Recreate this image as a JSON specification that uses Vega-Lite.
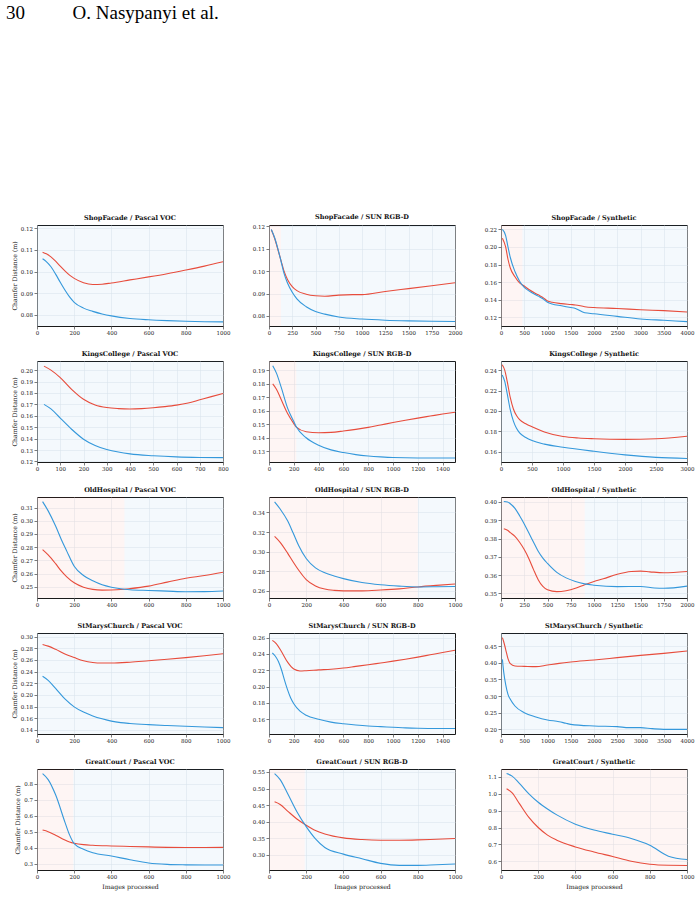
{
  "$schema": "https://vega.github.io/schema/vega-lite/v6.json",
  "autosize": {"type": "pad"},
  "padding": {"left": 6, "top": 4, "right": 5, "bottom": 5},
  "background": "white",
  "title": {
    "text": "30\u00a0\u00a0\u00a0\u00a0\u00a0\u00a0\u00a0\u00a0\u00a0\u00a0O. Nasypanyi et al.",
    "font": "Liberation Serif", "fontSize": 19, "fontWeight": "normal", "color": "#000",
    "anchor": "start", "frame": "group", "offset": 190, "dx": -31
  },
  "bounds": "flush",
  "columns": 3,
  "spacing": {"row": 35, "column": 46},
  "datasets": {
    "regions": [
      {"panel": "ShopFacade / Pascal VOC", "n": 0, "n_end": 1000, "lower": "B"},
      {"panel": "ShopFacade / SUN RGB-D", "n": 0, "n_end": 128, "lower": "A"},
      {"panel": "ShopFacade / SUN RGB-D", "n": 128, "n_end": 2000, "lower": "B"},
      {"panel": "ShopFacade / Synthetic", "n": 0, "n_end": 460, "lower": "A"},
      {"panel": "ShopFacade / Synthetic", "n": 460, "n_end": 4000, "lower": "B"},
      {"panel": "KingsCollege / Pascal VOC", "n": 0, "n_end": 800, "lower": "B"},
      {"panel": "KingsCollege / SUN RGB-D", "n": 0, "n_end": 220, "lower": "A"},
      {"panel": "KingsCollege / SUN RGB-D", "n": 220, "n_end": 1500, "lower": "B"},
      {"panel": "KingsCollege / Synthetic", "n": 0, "n_end": 3000, "lower": "B"},
      {"panel": "OldHospital / Pascal VOC", "n": 0, "n_end": 470, "lower": "A"},
      {"panel": "OldHospital / Pascal VOC", "n": 470, "n_end": 1000, "lower": "B"},
      {"panel": "OldHospital / SUN RGB-D", "n": 0, "n_end": 800, "lower": "A"},
      {"panel": "OldHospital / SUN RGB-D", "n": 800, "n_end": 1000, "lower": "B"},
      {"panel": "OldHospital / Synthetic", "n": 0, "n_end": 900, "lower": "A"},
      {"panel": "OldHospital / Synthetic", "n": 900, "n_end": 2000, "lower": "B"},
      {"panel": "StMarysChurch / Pascal VOC", "n": 0, "n_end": 1000, "lower": "B"},
      {"panel": "StMarysChurch / SUN RGB-D", "n": 0, "n_end": 1500, "lower": "B"},
      {"panel": "StMarysChurch / Synthetic", "n": 0, "n_end": 4000, "lower": "B"},
      {"panel": "GreatCourt / Pascal VOC", "n": 0, "n_end": 195, "lower": "A"},
      {"panel": "GreatCourt / Pascal VOC", "n": 195, "n_end": 1000, "lower": "B"},
      {"panel": "GreatCourt / SUN RGB-D", "n": 0, "n_end": 192, "lower": "A"},
      {"panel": "GreatCourt / SUN RGB-D", "n": 192, "n_end": 1000, "lower": "B"},
      {"panel": "GreatCourt / Synthetic", "n": 0, "n_end": 1000, "lower": "A"}
    ],
    "shop_voc": [
      {"m": "A", "n": 30, "cd": 0.1090}, {"m": "A", "n": 50, "cd": 0.1082}, {"m": "A", "n": 75, "cd": 0.1068}, {"m": "A", "n": 100, "cd": 0.1048},
      {"m": "A", "n": 125, "cd": 0.1025}, {"m": "A", "n": 150, "cd": 0.1003}, {"m": "A", "n": 175, "cd": 0.0983}, {"m": "A", "n": 200, "cd": 0.0968},
      {"m": "A", "n": 250, "cd": 0.0948}, {"m": "A", "n": 300, "cd": 0.0940}, {"m": "A", "n": 350, "cd": 0.0941}, {"m": "A", "n": 400, "cd": 0.0947},
      {"m": "A", "n": 500, "cd": 0.0961}, {"m": "A", "n": 600, "cd": 0.0975}, {"m": "A", "n": 700, "cd": 0.0990}, {"m": "A", "n": 800, "cd": 0.1007},
      {"m": "A", "n": 900, "cd": 0.1025}, {"m": "A", "n": 1000, "cd": 0.1045},
      {"m": "B", "n": 30, "cd": 0.1059}, {"m": "B", "n": 50, "cd": 0.1046}, {"m": "B", "n": 75, "cd": 0.1022}, {"m": "B", "n": 100, "cd": 0.0988},
      {"m": "B", "n": 125, "cd": 0.0950}, {"m": "B", "n": 150, "cd": 0.0914}, {"m": "B", "n": 175, "cd": 0.0882}, {"m": "B", "n": 200, "cd": 0.0857},
      {"m": "B", "n": 250, "cd": 0.0830}, {"m": "B", "n": 300, "cd": 0.0815}, {"m": "B", "n": 350, "cd": 0.0803}, {"m": "B", "n": 400, "cd": 0.0794},
      {"m": "B", "n": 500, "cd": 0.0782}, {"m": "B", "n": 600, "cd": 0.0776}, {"m": "B", "n": 700, "cd": 0.0772}, {"m": "B", "n": 800, "cd": 0.0769},
      {"m": "B", "n": 900, "cd": 0.0767}, {"m": "B", "n": 1000, "cd": 0.0766}
    ],
    "shop_sun": [
      {"m": "A", "n": 25, "cd": 0.1185}, {"m": "A", "n": 60, "cd": 0.1147}, {"m": "A", "n": 100, "cd": 0.1090}, {"m": "A", "n": 130, "cd": 0.1046},
      {"m": "A", "n": 160, "cd": 0.1002}, {"m": "A", "n": 200, "cd": 0.0962}, {"m": "A", "n": 250, "cd": 0.0931}, {"m": "A", "n": 300, "cd": 0.0913},
      {"m": "A", "n": 400, "cd": 0.0897}, {"m": "A", "n": 500, "cd": 0.0890}, {"m": "A", "n": 600, "cd": 0.0888}, {"m": "A", "n": 750, "cd": 0.0893},
      {"m": "A", "n": 900, "cd": 0.0895}, {"m": "A", "n": 1000, "cd": 0.0895}, {"m": "A", "n": 1250, "cd": 0.0909}, {"m": "A", "n": 1500, "cd": 0.0922},
      {"m": "A", "n": 1750, "cd": 0.0935}, {"m": "A", "n": 2000, "cd": 0.0948},
      {"m": "B", "n": 25, "cd": 0.1186}, {"m": "B", "n": 60, "cd": 0.1150}, {"m": "B", "n": 100, "cd": 0.1093}, {"m": "B", "n": 130, "cd": 0.1043},
      {"m": "B", "n": 160, "cd": 0.0992}, {"m": "B", "n": 200, "cd": 0.0946}, {"m": "B", "n": 250, "cd": 0.0906}, {"m": "B", "n": 300, "cd": 0.0876},
      {"m": "B", "n": 400, "cd": 0.0841}, {"m": "B", "n": 500, "cd": 0.0820}, {"m": "B", "n": 600, "cd": 0.0808}, {"m": "B", "n": 750, "cd": 0.0795},
      {"m": "B", "n": 1000, "cd": 0.0786}, {"m": "B", "n": 1250, "cd": 0.0781}, {"m": "B", "n": 1500, "cd": 0.0778}, {"m": "B", "n": 1750, "cd": 0.0776},
      {"m": "B", "n": 2000, "cd": 0.0775}
    ],
    "shop_syn": [
      {"m": "A", "n": 30, "cd": 0.210}, {"m": "A", "n": 100, "cd": 0.200}, {"m": "A", "n": 150, "cd": 0.186}, {"m": "A", "n": 200, "cd": 0.176},
      {"m": "A", "n": 300, "cd": 0.166}, {"m": "A", "n": 400, "cd": 0.159}, {"m": "A", "n": 500, "cd": 0.1555}, {"m": "A", "n": 600, "cd": 0.1515},
      {"m": "A", "n": 800, "cd": 0.1455}, {"m": "A", "n": 900, "cd": 0.1425}, {"m": "A", "n": 1000, "cd": 0.1385}, {"m": "A", "n": 1100, "cd": 0.1370},
      {"m": "A", "n": 1300, "cd": 0.1355}, {"m": "A", "n": 1500, "cd": 0.1345}, {"m": "A", "n": 1600, "cd": 0.1340}, {"m": "A", "n": 1800, "cd": 0.1320},
      {"m": "A", "n": 2000, "cd": 0.1310}, {"m": "A", "n": 2500, "cd": 0.1300}, {"m": "A", "n": 3000, "cd": 0.1285}, {"m": "A", "n": 3500, "cd": 0.1275},
      {"m": "A", "n": 4000, "cd": 0.1260},
      {"m": "B", "n": 30, "cd": 0.220}, {"m": "B", "n": 100, "cd": 0.213}, {"m": "B", "n": 150, "cd": 0.200}, {"m": "B", "n": 200, "cd": 0.188},
      {"m": "B", "n": 300, "cd": 0.172}, {"m": "B", "n": 400, "cd": 0.161}, {"m": "B", "n": 500, "cd": 0.1540}, {"m": "B", "n": 600, "cd": 0.1500},
      {"m": "B", "n": 800, "cd": 0.1440}, {"m": "B", "n": 900, "cd": 0.1410}, {"m": "B", "n": 1000, "cd": 0.1370}, {"m": "B", "n": 1100, "cd": 0.1350},
      {"m": "B", "n": 1300, "cd": 0.1330}, {"m": "B", "n": 1500, "cd": 0.1310}, {"m": "B", "n": 1600, "cd": 0.1300}, {"m": "B", "n": 1800, "cd": 0.1250},
      {"m": "B", "n": 2000, "cd": 0.1240}, {"m": "B", "n": 2500, "cd": 0.1210}, {"m": "B", "n": 3000, "cd": 0.1180}, {"m": "B", "n": 3500, "cd": 0.1165},
      {"m": "B", "n": 4000, "cd": 0.1150}
    ],
    "kings_voc": [
      {"m": "A", "n": 30, "cd": 0.2035}, {"m": "A", "n": 60, "cd": 0.2000}, {"m": "A", "n": 100, "cd": 0.1935}, {"m": "A", "n": 150, "cd": 0.1830},
      {"m": "A", "n": 200, "cd": 0.1745}, {"m": "A", "n": 250, "cd": 0.1695}, {"m": "A", "n": 300, "cd": 0.1672}, {"m": "A", "n": 350, "cd": 0.1663},
      {"m": "A", "n": 400, "cd": 0.1660}, {"m": "A", "n": 450, "cd": 0.1663}, {"m": "A", "n": 500, "cd": 0.1670}, {"m": "A", "n": 550, "cd": 0.1680},
      {"m": "A", "n": 600, "cd": 0.1693}, {"m": "A", "n": 650, "cd": 0.1712}, {"m": "A", "n": 700, "cd": 0.1740}, {"m": "A", "n": 750, "cd": 0.1768},
      {"m": "A", "n": 800, "cd": 0.1795},
      {"m": "B", "n": 30, "cd": 0.1700}, {"m": "B", "n": 60, "cd": 0.1660}, {"m": "B", "n": 100, "cd": 0.1580}, {"m": "B", "n": 150, "cd": 0.1480},
      {"m": "B", "n": 200, "cd": 0.1395}, {"m": "B", "n": 250, "cd": 0.1340}, {"m": "B", "n": 300, "cd": 0.1305}, {"m": "B", "n": 350, "cd": 0.1282},
      {"m": "B", "n": 400, "cd": 0.1266}, {"m": "B", "n": 500, "cd": 0.1250}, {"m": "B", "n": 600, "cd": 0.1240}, {"m": "B", "n": 700, "cd": 0.1235},
      {"m": "B", "n": 800, "cd": 0.1233}
    ],
    "kings_sun": [
      {"m": "A", "n": 30, "cd": 0.1800}, {"m": "A", "n": 60, "cd": 0.1760}, {"m": "A", "n": 100, "cd": 0.1680}, {"m": "A", "n": 150, "cd": 0.1580},
      {"m": "A", "n": 200, "cd": 0.1505}, {"m": "A", "n": 220, "cd": 0.1479}, {"m": "A", "n": 300, "cd": 0.1445}, {"m": "A", "n": 400, "cd": 0.1437},
      {"m": "A", "n": 500, "cd": 0.1440}, {"m": "A", "n": 600, "cd": 0.1450}, {"m": "A", "n": 700, "cd": 0.1462}, {"m": "A", "n": 800, "cd": 0.1477},
      {"m": "A", "n": 900, "cd": 0.1495}, {"m": "A", "n": 1000, "cd": 0.1513}, {"m": "A", "n": 1100, "cd": 0.1530}, {"m": "A", "n": 1200, "cd": 0.1546},
      {"m": "A", "n": 1300, "cd": 0.1561}, {"m": "A", "n": 1400, "cd": 0.1576}, {"m": "A", "n": 1500, "cd": 0.1590},
      {"m": "B", "n": 30, "cd": 0.1935}, {"m": "B", "n": 60, "cd": 0.1880}, {"m": "B", "n": 100, "cd": 0.1770}, {"m": "B", "n": 150, "cd": 0.1620},
      {"m": "B", "n": 200, "cd": 0.1520}, {"m": "B", "n": 220, "cd": 0.1481}, {"m": "B", "n": 300, "cd": 0.1400}, {"m": "B", "n": 400, "cd": 0.1345},
      {"m": "B", "n": 500, "cd": 0.1310}, {"m": "B", "n": 600, "cd": 0.1290}, {"m": "B", "n": 700, "cd": 0.1275}, {"m": "B", "n": 800, "cd": 0.1265},
      {"m": "B", "n": 900, "cd": 0.1258}, {"m": "B", "n": 1000, "cd": 0.1253}, {"m": "B", "n": 1200, "cd": 0.1250}, {"m": "B", "n": 1500, "cd": 0.1250}
    ],
    "kings_syn": [
      {"m": "A", "n": 20, "cd": 0.2453}, {"m": "A", "n": 60, "cd": 0.2400}, {"m": "A", "n": 100, "cd": 0.2290}, {"m": "A", "n": 150, "cd": 0.2130},
      {"m": "A", "n": 200, "cd": 0.2020}, {"m": "A", "n": 250, "cd": 0.1955}, {"m": "A", "n": 300, "cd": 0.1915}, {"m": "A", "n": 400, "cd": 0.1875},
      {"m": "A", "n": 500, "cd": 0.1845}, {"m": "A", "n": 700, "cd": 0.1795}, {"m": "A", "n": 1000, "cd": 0.1750}, {"m": "A", "n": 1250, "cd": 0.1735},
      {"m": "A", "n": 1500, "cd": 0.1728}, {"m": "A", "n": 2000, "cd": 0.1722}, {"m": "A", "n": 2500, "cd": 0.1728}, {"m": "A", "n": 3000, "cd": 0.1753},
      {"m": "B", "n": 20, "cd": 0.2353}, {"m": "B", "n": 60, "cd": 0.2290}, {"m": "B", "n": 100, "cd": 0.2170}, {"m": "B", "n": 150, "cd": 0.2010},
      {"m": "B", "n": 200, "cd": 0.1900}, {"m": "B", "n": 250, "cd": 0.1830}, {"m": "B", "n": 300, "cd": 0.1785}, {"m": "B", "n": 400, "cd": 0.1740},
      {"m": "B", "n": 500, "cd": 0.1710}, {"m": "B", "n": 700, "cd": 0.1675}, {"m": "B", "n": 1000, "cd": 0.1645}, {"m": "B", "n": 1500, "cd": 0.1605},
      {"m": "B", "n": 2000, "cd": 0.1570}, {"m": "B", "n": 2500, "cd": 0.1545}, {"m": "B", "n": 3000, "cd": 0.1535}
    ],
    "old_voc": [
      {"m": "A", "n": 30, "cd": 0.2782}, {"m": "A", "n": 60, "cd": 0.2742}, {"m": "A", "n": 100, "cd": 0.2675}, {"m": "A", "n": 130, "cd": 0.2620},
      {"m": "A", "n": 160, "cd": 0.2575}, {"m": "A", "n": 200, "cd": 0.2530}, {"m": "A", "n": 250, "cd": 0.2497}, {"m": "A", "n": 300, "cd": 0.2480},
      {"m": "A", "n": 350, "cd": 0.2475}, {"m": "A", "n": 400, "cd": 0.2476}, {"m": "A", "n": 450, "cd": 0.2479}, {"m": "A", "n": 500, "cd": 0.2486},
      {"m": "A", "n": 600, "cd": 0.2505}, {"m": "A", "n": 700, "cd": 0.2535}, {"m": "A", "n": 800, "cd": 0.2565}, {"m": "A", "n": 900, "cd": 0.2585},
      {"m": "A", "n": 1000, "cd": 0.2610},
      {"m": "B", "n": 30, "cd": 0.3145}, {"m": "B", "n": 60, "cd": 0.3075}, {"m": "B", "n": 100, "cd": 0.2960}, {"m": "B", "n": 130, "cd": 0.2860},
      {"m": "B", "n": 160, "cd": 0.2770}, {"m": "B", "n": 200, "cd": 0.2655}, {"m": "B", "n": 250, "cd": 0.2585}, {"m": "B", "n": 300, "cd": 0.2545},
      {"m": "B", "n": 350, "cd": 0.2515}, {"m": "B", "n": 400, "cd": 0.2497}, {"m": "B", "n": 450, "cd": 0.2485}, {"m": "B", "n": 500, "cd": 0.2478},
      {"m": "B", "n": 600, "cd": 0.2472}, {"m": "B", "n": 700, "cd": 0.2467}, {"m": "B", "n": 800, "cd": 0.2462}, {"m": "B", "n": 900, "cd": 0.2463},
      {"m": "B", "n": 1000, "cd": 0.2468}
    ],
    "old_sun": [
      {"m": "A", "n": 30, "cd": 0.3155}, {"m": "A", "n": 60, "cd": 0.3095}, {"m": "A", "n": 100, "cd": 0.2985}, {"m": "A", "n": 130, "cd": 0.2895},
      {"m": "A", "n": 160, "cd": 0.2810}, {"m": "A", "n": 200, "cd": 0.2715}, {"m": "A", "n": 250, "cd": 0.2650}, {"m": "A", "n": 300, "cd": 0.2618},
      {"m": "A", "n": 350, "cd": 0.2605}, {"m": "A", "n": 400, "cd": 0.2600}, {"m": "A", "n": 500, "cd": 0.2600}, {"m": "A", "n": 600, "cd": 0.2608},
      {"m": "A", "n": 700, "cd": 0.2620}, {"m": "A", "n": 800, "cd": 0.2640}, {"m": "A", "n": 900, "cd": 0.2656}, {"m": "A", "n": 1000, "cd": 0.2670},
      {"m": "B", "n": 30, "cd": 0.3508}, {"m": "B", "n": 60, "cd": 0.3435}, {"m": "B", "n": 100, "cd": 0.3315}, {"m": "B", "n": 130, "cd": 0.3190},
      {"m": "B", "n": 160, "cd": 0.3060}, {"m": "B", "n": 200, "cd": 0.2930}, {"m": "B", "n": 250, "cd": 0.2835}, {"m": "B", "n": 300, "cd": 0.2785},
      {"m": "B", "n": 350, "cd": 0.2752}, {"m": "B", "n": 400, "cd": 0.2725}, {"m": "B", "n": 500, "cd": 0.2685}, {"m": "B", "n": 600, "cd": 0.2662},
      {"m": "B", "n": 700, "cd": 0.2648}, {"m": "B", "n": 800, "cd": 0.2640}, {"m": "B", "n": 900, "cd": 0.2642}, {"m": "B", "n": 1000, "cd": 0.2645}
    ],
    "old_syn": [
      {"m": "A", "n": 30, "cd": 0.3853}, {"m": "A", "n": 70, "cd": 0.3845}, {"m": "A", "n": 100, "cd": 0.3832}, {"m": "A", "n": 150, "cd": 0.3812},
      {"m": "A", "n": 200, "cd": 0.3780}, {"m": "A", "n": 250, "cd": 0.3740}, {"m": "A", "n": 300, "cd": 0.3690}, {"m": "A", "n": 350, "cd": 0.3630},
      {"m": "A", "n": 400, "cd": 0.3575}, {"m": "A", "n": 450, "cd": 0.3538}, {"m": "A", "n": 500, "cd": 0.3520}, {"m": "A", "n": 600, "cd": 0.3510},
      {"m": "A", "n": 700, "cd": 0.3515}, {"m": "A", "n": 800, "cd": 0.3528}, {"m": "A", "n": 900, "cd": 0.3548}, {"m": "A", "n": 1000, "cd": 0.3565},
      {"m": "A", "n": 1100, "cd": 0.3580}, {"m": "A", "n": 1250, "cd": 0.3605}, {"m": "A", "n": 1400, "cd": 0.3620}, {"m": "A", "n": 1500, "cd": 0.3622},
      {"m": "A", "n": 1600, "cd": 0.3618}, {"m": "A", "n": 1750, "cd": 0.3613}, {"m": "A", "n": 2000, "cd": 0.3620},
      {"m": "B", "n": 30, "cd": 0.4002}, {"m": "B", "n": 70, "cd": 0.4000}, {"m": "B", "n": 100, "cd": 0.3990}, {"m": "B", "n": 150, "cd": 0.3965},
      {"m": "B", "n": 200, "cd": 0.3925}, {"m": "B", "n": 250, "cd": 0.3880}, {"m": "B", "n": 300, "cd": 0.3830}, {"m": "B", "n": 350, "cd": 0.3780},
      {"m": "B", "n": 400, "cd": 0.3730}, {"m": "B", "n": 450, "cd": 0.3693}, {"m": "B", "n": 500, "cd": 0.3664}, {"m": "B", "n": 600, "cd": 0.3615},
      {"m": "B", "n": 700, "cd": 0.3585}, {"m": "B", "n": 800, "cd": 0.3565}, {"m": "B", "n": 900, "cd": 0.3552}, {"m": "B", "n": 1000, "cd": 0.3545},
      {"m": "B", "n": 1250, "cd": 0.3537}, {"m": "B", "n": 1500, "cd": 0.3538}, {"m": "B", "n": 1650, "cd": 0.3530}, {"m": "B", "n": 1750, "cd": 0.3528},
      {"m": "B", "n": 2000, "cd": 0.3540}
    ],
    "st_voc": [
      {"m": "A", "n": 30, "cd": 0.2863}, {"m": "A", "n": 60, "cd": 0.2835}, {"m": "A", "n": 100, "cd": 0.2780}, {"m": "A", "n": 150, "cd": 0.2700},
      {"m": "A", "n": 200, "cd": 0.2640}, {"m": "A", "n": 250, "cd": 0.2585}, {"m": "A", "n": 300, "cd": 0.2556}, {"m": "A", "n": 350, "cd": 0.2546},
      {"m": "A", "n": 400, "cd": 0.2545}, {"m": "A", "n": 500, "cd": 0.2560}, {"m": "A", "n": 600, "cd": 0.2585}, {"m": "A", "n": 700, "cd": 0.2610},
      {"m": "A", "n": 800, "cd": 0.2638}, {"m": "A", "n": 900, "cd": 0.2670}, {"m": "A", "n": 1000, "cd": 0.2705},
      {"m": "B", "n": 30, "cd": 0.2320}, {"m": "B", "n": 60, "cd": 0.2250}, {"m": "B", "n": 100, "cd": 0.2110}, {"m": "B", "n": 150, "cd": 0.1930},
      {"m": "B", "n": 200, "cd": 0.1795}, {"m": "B", "n": 250, "cd": 0.1705}, {"m": "B", "n": 300, "cd": 0.1640}, {"m": "B", "n": 350, "cd": 0.1590},
      {"m": "B", "n": 400, "cd": 0.1550}, {"m": "B", "n": 450, "cd": 0.1525}, {"m": "B", "n": 500, "cd": 0.1510}, {"m": "B", "n": 600, "cd": 0.1490},
      {"m": "B", "n": 700, "cd": 0.1475}, {"m": "B", "n": 800, "cd": 0.1462}, {"m": "B", "n": 900, "cd": 0.1450}, {"m": "B", "n": 1000, "cd": 0.1440}
    ],
    "st_sun": [
      {"m": "A", "n": 27, "cd": 0.2567}, {"m": "A", "n": 60, "cd": 0.2525}, {"m": "A", "n": 100, "cd": 0.2430}, {"m": "A", "n": 150, "cd": 0.2300},
      {"m": "A", "n": 200, "cd": 0.2215}, {"m": "A", "n": 250, "cd": 0.2192}, {"m": "A", "n": 300, "cd": 0.2195}, {"m": "A", "n": 400, "cd": 0.2205},
      {"m": "A", "n": 500, "cd": 0.2213}, {"m": "A", "n": 600, "cd": 0.2228}, {"m": "A", "n": 700, "cd": 0.2248}, {"m": "A", "n": 800, "cd": 0.2268},
      {"m": "A", "n": 900, "cd": 0.2290}, {"m": "A", "n": 1000, "cd": 0.2312}, {"m": "A", "n": 1100, "cd": 0.2336}, {"m": "A", "n": 1200, "cd": 0.2362},
      {"m": "A", "n": 1300, "cd": 0.2390}, {"m": "A", "n": 1400, "cd": 0.2418}, {"m": "A", "n": 1500, "cd": 0.2445},
      {"m": "B", "n": 27, "cd": 0.2412}, {"m": "B", "n": 50, "cd": 0.2375}, {"m": "B", "n": 75, "cd": 0.2310}, {"m": "B", "n": 100, "cd": 0.2210},
      {"m": "B", "n": 125, "cd": 0.2080}, {"m": "B", "n": 150, "cd": 0.1960}, {"m": "B", "n": 175, "cd": 0.1860}, {"m": "B", "n": 200, "cd": 0.1790},
      {"m": "B", "n": 250, "cd": 0.1700}, {"m": "B", "n": 300, "cd": 0.1650}, {"m": "B", "n": 400, "cd": 0.1600}, {"m": "B", "n": 500, "cd": 0.1565},
      {"m": "B", "n": 600, "cd": 0.1545}, {"m": "B", "n": 700, "cd": 0.1530}, {"m": "B", "n": 800, "cd": 0.1518}, {"m": "B", "n": 900, "cd": 0.1510},
      {"m": "B", "n": 1000, "cd": 0.1503}, {"m": "B", "n": 1100, "cd": 0.1495}, {"m": "B", "n": 1200, "cd": 0.1490}, {"m": "B", "n": 1300, "cd": 0.1488},
      {"m": "B", "n": 1400, "cd": 0.1487}, {"m": "B", "n": 1500, "cd": 0.1488}
    ],
    "st_syn": [
      {"m": "A", "n": 30, "cd": 0.475}, {"m": "A", "n": 60, "cd": 0.462}, {"m": "A", "n": 100, "cd": 0.440}, {"m": "A", "n": 150, "cd": 0.412},
      {"m": "A", "n": 200, "cd": 0.397}, {"m": "A", "n": 300, "cd": 0.390}, {"m": "A", "n": 500, "cd": 0.389}, {"m": "A", "n": 750, "cd": 0.388},
      {"m": "A", "n": 1000, "cd": 0.393}, {"m": "A", "n": 1250, "cd": 0.398}, {"m": "A", "n": 1500, "cd": 0.402}, {"m": "A", "n": 2000, "cd": 0.408},
      {"m": "A", "n": 2500, "cd": 0.415}, {"m": "A", "n": 3000, "cd": 0.422}, {"m": "A", "n": 3500, "cd": 0.428}, {"m": "A", "n": 4000, "cd": 0.435},
      {"m": "B", "n": 30, "cd": 0.410}, {"m": "B", "n": 60, "cd": 0.370}, {"m": "B", "n": 100, "cd": 0.335}, {"m": "B", "n": 150, "cd": 0.305},
      {"m": "B", "n": 200, "cd": 0.290}, {"m": "B", "n": 300, "cd": 0.270}, {"m": "B", "n": 500, "cd": 0.250}, {"m": "B", "n": 750, "cd": 0.237},
      {"m": "B", "n": 1000, "cd": 0.228}, {"m": "B", "n": 1250, "cd": 0.223}, {"m": "B", "n": 1400, "cd": 0.218}, {"m": "B", "n": 1500, "cd": 0.215},
      {"m": "B", "n": 2000, "cd": 0.210}, {"m": "B", "n": 2500, "cd": 0.208}, {"m": "B", "n": 2750, "cd": 0.205}, {"m": "B", "n": 3000, "cd": 0.205},
      {"m": "B", "n": 3250, "cd": 0.202}, {"m": "B", "n": 3500, "cd": 0.200}, {"m": "B", "n": 4000, "cd": 0.200}
    ],
    "gc_voc": [
      {"m": "A", "n": 30, "cd": 0.510}, {"m": "A", "n": 60, "cd": 0.500}, {"m": "A", "n": 100, "cd": 0.478}, {"m": "A", "n": 150, "cd": 0.448},
      {"m": "A", "n": 175, "cd": 0.436}, {"m": "A", "n": 200, "cd": 0.428}, {"m": "A", "n": 250, "cd": 0.419}, {"m": "A", "n": 300, "cd": 0.415},
      {"m": "A", "n": 400, "cd": 0.411}, {"m": "A", "n": 500, "cd": 0.408}, {"m": "A", "n": 600, "cd": 0.405}, {"m": "A", "n": 700, "cd": 0.402},
      {"m": "A", "n": 800, "cd": 0.401}, {"m": "A", "n": 900, "cd": 0.401}, {"m": "A", "n": 1000, "cd": 0.402},
      {"m": "B", "n": 30, "cd": 0.862}, {"m": "B", "n": 60, "cd": 0.825}, {"m": "B", "n": 100, "cd": 0.730}, {"m": "B", "n": 150, "cd": 0.560},
      {"m": "B", "n": 175, "cd": 0.480}, {"m": "B", "n": 200, "cd": 0.425}, {"m": "B", "n": 250, "cd": 0.390}, {"m": "B", "n": 300, "cd": 0.368},
      {"m": "B", "n": 400, "cd": 0.348}, {"m": "B", "n": 500, "cd": 0.325}, {"m": "B", "n": 600, "cd": 0.305}, {"m": "B", "n": 700, "cd": 0.296},
      {"m": "B", "n": 800, "cd": 0.293}, {"m": "B", "n": 900, "cd": 0.292}, {"m": "B", "n": 1000, "cd": 0.292}
    ],
    "gc_sun": [
      {"m": "A", "n": 30, "cd": 0.460}, {"m": "A", "n": 60, "cd": 0.452}, {"m": "A", "n": 100, "cd": 0.432}, {"m": "A", "n": 150, "cd": 0.408},
      {"m": "A", "n": 200, "cd": 0.389}, {"m": "A", "n": 250, "cd": 0.373}, {"m": "A", "n": 300, "cd": 0.363}, {"m": "A", "n": 400, "cd": 0.351},
      {"m": "A", "n": 500, "cd": 0.346}, {"m": "A", "n": 600, "cd": 0.344}, {"m": "A", "n": 700, "cd": 0.344}, {"m": "A", "n": 800, "cd": 0.345},
      {"m": "A", "n": 900, "cd": 0.347}, {"m": "A", "n": 1000, "cd": 0.349},
      {"m": "B", "n": 30, "cd": 0.545}, {"m": "B", "n": 60, "cd": 0.527}, {"m": "B", "n": 100, "cd": 0.485}, {"m": "B", "n": 150, "cd": 0.430},
      {"m": "B", "n": 200, "cd": 0.385}, {"m": "B", "n": 250, "cd": 0.348}, {"m": "B", "n": 300, "cd": 0.322}, {"m": "B", "n": 400, "cd": 0.302},
      {"m": "B", "n": 500, "cd": 0.288}, {"m": "B", "n": 600, "cd": 0.274}, {"m": "B", "n": 700, "cd": 0.268}, {"m": "B", "n": 800, "cd": 0.268},
      {"m": "B", "n": 900, "cd": 0.270}, {"m": "B", "n": 1000, "cd": 0.272}
    ],
    "gc_syn": [
      {"m": "A", "n": 30, "cd": 1.030}, {"m": "A", "n": 60, "cd": 1.005}, {"m": "A", "n": 100, "cd": 0.940}, {"m": "A", "n": 150, "cd": 0.860},
      {"m": "A", "n": 200, "cd": 0.800}, {"m": "A", "n": 250, "cd": 0.755}, {"m": "A", "n": 300, "cd": 0.725}, {"m": "A", "n": 400, "cd": 0.685},
      {"m": "A", "n": 500, "cd": 0.655}, {"m": "A", "n": 600, "cd": 0.628}, {"m": "A", "n": 700, "cd": 0.600}, {"m": "A", "n": 800, "cd": 0.582},
      {"m": "A", "n": 900, "cd": 0.576}, {"m": "A", "n": 1000, "cd": 0.575},
      {"m": "B", "n": 30, "cd": 1.120}, {"m": "B", "n": 60, "cd": 1.105}, {"m": "B", "n": 100, "cd": 1.060}, {"m": "B", "n": 150, "cd": 1.000},
      {"m": "B", "n": 200, "cd": 0.950}, {"m": "B", "n": 250, "cd": 0.910}, {"m": "B", "n": 300, "cd": 0.875}, {"m": "B", "n": 400, "cd": 0.820},
      {"m": "B", "n": 500, "cd": 0.785}, {"m": "B", "n": 600, "cd": 0.760}, {"m": "B", "n": 700, "cd": 0.735}, {"m": "B", "n": 800, "cd": 0.695},
      {"m": "B", "n": 900, "cd": 0.630}, {"m": "B", "n": 1000, "cd": 0.610}
    ]
  },
  "concat": [
    {
      "title": "ShopFacade / Pascal VOC", "width": 186, "height": 101,
      "encoding": {"x": {"field": "n", "type": "quantitative", "scale": {"domain": [0, 1000], "nice": false, "zero": false}, "axis": {"values": [0, 200, 400, 600, 800, 1000], "format": "d", "title": null}}},
      "layer": [
        {"data": {"name": "regions"}, "transform": [{"filter": "datum.panel == 'ShopFacade / Pascal VOC'"}], "mark": {"type": "rect", "opacity": 0.055}, "encoding": {"x2": {"field": "n_end"}, "color": {"field": "lower", "type": "nominal"}}},
        {"data": {"name": "shop_voc"}, "mark": {"type": "line", "strokeWidth": 1.1, "interpolate": "monotone"}, "encoding": {"y": {"field": "cd", "type": "quantitative", "scale": {"domain": [0.0747, 0.1216], "nice": false, "zero": false}, "axis": {"values": [0.08, 0.09, 0.10, 0.11, 0.12], "format": ".2f", "title": "Chamfer Distance (m)"}}, "color": {"field": "m", "type": "nominal"}}}
      ]
    },
    {
      "title": "ShopFacade / SUN RGB-D", "width": 186, "height": 101,
      "encoding": {"x": {"field": "n", "type": "quantitative", "scale": {"domain": [0, 2000], "nice": false, "zero": false}, "axis": {"values": [0, 250, 500, 750, 1000, 1250, 1500, 1750, 2000], "format": "d", "title": null}}},
      "layer": [
        {"data": {"name": "regions"}, "transform": [{"filter": "datum.panel == 'ShopFacade / SUN RGB-D'"}], "mark": {"type": "rect", "opacity": 0.055}, "encoding": {"x2": {"field": "n_end"}, "color": {"field": "lower", "type": "nominal"}}},
        {"data": {"name": "shop_sun"}, "mark": {"type": "line", "strokeWidth": 1.1, "interpolate": "monotone"}, "encoding": {"y": {"field": "cd", "type": "quantitative", "scale": {"domain": [0.0755, 0.1206], "nice": false, "zero": false}, "axis": {"values": [0.08, 0.09, 0.10, 0.11, 0.12], "format": ".2f", "title": null}}, "color": {"field": "m", "type": "nominal"}}}
      ]
    },
    {
      "title": "ShopFacade / Synthetic", "width": 186, "height": 101,
      "encoding": {"x": {"field": "n", "type": "quantitative", "scale": {"domain": [0, 4000], "nice": false, "zero": false}, "axis": {"values": [0, 500, 1000, 1500, 2000, 2500, 3000, 3500, 4000], "format": "d", "title": null}}},
      "layer": [
        {"data": {"name": "regions"}, "transform": [{"filter": "datum.panel == 'ShopFacade / Synthetic'"}], "mark": {"type": "rect", "opacity": 0.055}, "encoding": {"x2": {"field": "n_end"}, "color": {"field": "lower", "type": "nominal"}}},
        {"data": {"name": "shop_syn"}, "mark": {"type": "line", "strokeWidth": 1.1, "interpolate": "monotone"}, "encoding": {"y": {"field": "cd", "type": "quantitative", "scale": {"domain": [0.110, 0.225], "nice": false, "zero": false}, "axis": {"values": [0.12, 0.14, 0.16, 0.18, 0.20, 0.22], "format": ".2f", "title": null}}, "color": {"field": "m", "type": "nominal"}}}
      ]
    },
    {
      "title": "KingsCollege / Pascal VOC", "width": 186, "height": 101,
      "encoding": {"x": {"field": "n", "type": "quantitative", "scale": {"domain": [0, 800], "nice": false, "zero": false}, "axis": {"values": [0, 100, 200, 300, 400, 500, 600, 700, 800], "format": "d", "title": null}}},
      "layer": [
        {"data": {"name": "regions"}, "transform": [{"filter": "datum.panel == 'KingsCollege / Pascal VOC'"}], "mark": {"type": "rect", "opacity": 0.055}, "encoding": {"x2": {"field": "n_end"}, "color": {"field": "lower", "type": "nominal"}}},
        {"data": {"name": "kings_voc"}, "mark": {"type": "line", "strokeWidth": 1.1, "interpolate": "monotone"}, "encoding": {"y": {"field": "cd", "type": "quantitative", "scale": {"domain": [0.1195, 0.208], "nice": false, "zero": false}, "axis": {"values": [0.12, 0.13, 0.14, 0.15, 0.16, 0.17, 0.18, 0.19, 0.20], "format": ".2f", "title": "Chamfer Distance (m)"}}, "color": {"field": "m", "type": "nominal"}}}
      ]
    },
    {
      "title": "KingsCollege / SUN RGB-D", "width": 186, "height": 101,
      "encoding": {"x": {"field": "n", "type": "quantitative", "scale": {"domain": [0, 1500], "nice": false, "zero": false}, "axis": {"values": [0, 200, 400, 600, 800, 1000, 1200, 1400], "format": "d", "title": null}}},
      "layer": [
        {"data": {"name": "regions"}, "transform": [{"filter": "datum.panel == 'KingsCollege / SUN RGB-D'"}], "mark": {"type": "rect", "opacity": 0.055}, "encoding": {"x2": {"field": "n_end"}, "color": {"field": "lower", "type": "nominal"}}},
        {"data": {"name": "kings_sun"}, "mark": {"type": "line", "strokeWidth": 1.1, "interpolate": "monotone"}, "encoding": {"y": {"field": "cd", "type": "quantitative", "scale": {"domain": [0.122, 0.197], "nice": false, "zero": false}, "axis": {"values": [0.13, 0.14, 0.15, 0.16, 0.17, 0.18, 0.19], "format": ".2f", "title": null}}, "color": {"field": "m", "type": "nominal"}}}
      ]
    },
    {
      "title": "KingsCollege / Synthetic", "width": 186, "height": 101,
      "encoding": {"x": {"field": "n", "type": "quantitative", "scale": {"domain": [0, 3000], "nice": false, "zero": false}, "axis": {"values": [0, 500, 1000, 1500, 2000, 2500, 3000], "format": "d", "title": null}}},
      "layer": [
        {"data": {"name": "regions"}, "transform": [{"filter": "datum.panel == 'KingsCollege / Synthetic'"}], "mark": {"type": "rect", "opacity": 0.055}, "encoding": {"x2": {"field": "n_end"}, "color": {"field": "lower", "type": "nominal"}}},
        {"data": {"name": "kings_syn"}, "mark": {"type": "line", "strokeWidth": 1.1, "interpolate": "monotone"}, "encoding": {"y": {"field": "cd", "type": "quantitative", "scale": {"domain": [0.150, 0.249], "nice": false, "zero": false}, "axis": {"values": [0.16, 0.18, 0.20, 0.22, 0.24], "format": ".2f", "title": null}}, "color": {"field": "m", "type": "nominal"}}}
      ]
    },
    {
      "title": "OldHospital / Pascal VOC", "width": 186, "height": 101,
      "encoding": {"x": {"field": "n", "type": "quantitative", "scale": {"domain": [0, 1000], "nice": false, "zero": false}, "axis": {"values": [0, 200, 400, 600, 800, 1000], "format": "d", "title": null}}},
      "layer": [
        {"data": {"name": "regions"}, "transform": [{"filter": "datum.panel == 'OldHospital / Pascal VOC'"}], "mark": {"type": "rect", "opacity": 0.055}, "encoding": {"x2": {"field": "n_end"}, "color": {"field": "lower", "type": "nominal"}}},
        {"data": {"name": "old_voc"}, "mark": {"type": "line", "strokeWidth": 1.1, "interpolate": "monotone"}, "encoding": {"y": {"field": "cd", "type": "quantitative", "scale": {"domain": [0.2415, 0.318], "nice": false, "zero": false}, "axis": {"values": [0.25, 0.26, 0.27, 0.28, 0.29, 0.30, 0.31], "format": ".2f", "title": "Chamfer Distance (m)"}}, "color": {"field": "m", "type": "nominal"}}}
      ]
    },
    {
      "title": "OldHospital / SUN RGB-D", "width": 186, "height": 101,
      "encoding": {"x": {"field": "n", "type": "quantitative", "scale": {"domain": [0, 1000], "nice": false, "zero": false}, "axis": {"values": [0, 200, 400, 600, 800, 1000], "format": "d", "title": null}}},
      "layer": [
        {"data": {"name": "regions"}, "transform": [{"filter": "datum.panel == 'OldHospital / SUN RGB-D'"}], "mark": {"type": "rect", "opacity": 0.055}, "encoding": {"x2": {"field": "n_end"}, "color": {"field": "lower", "type": "nominal"}}},
        {"data": {"name": "old_sun"}, "mark": {"type": "line", "strokeWidth": 1.1, "interpolate": "monotone"}, "encoding": {"y": {"field": "cd", "type": "quantitative", "scale": {"domain": [0.2527, 0.3558], "nice": false, "zero": false}, "axis": {"values": [0.26, 0.28, 0.30, 0.32, 0.34], "format": ".2f", "title": null}}, "color": {"field": "m", "type": "nominal"}}}
      ]
    },
    {
      "title": "OldHospital / Synthetic", "width": 186, "height": 101,
      "encoding": {"x": {"field": "n", "type": "quantitative", "scale": {"domain": [0, 2000], "nice": false, "zero": false}, "axis": {"values": [0, 250, 500, 750, 1000, 1250, 1500, 1750, 2000], "format": "d", "title": null}}},
      "layer": [
        {"data": {"name": "regions"}, "transform": [{"filter": "datum.panel == 'OldHospital / Synthetic'"}], "mark": {"type": "rect", "opacity": 0.055}, "encoding": {"x2": {"field": "n_end"}, "color": {"field": "lower", "type": "nominal"}}},
        {"data": {"name": "old_syn"}, "mark": {"type": "line", "strokeWidth": 1.1, "interpolate": "monotone"}, "encoding": {"y": {"field": "cd", "type": "quantitative", "scale": {"domain": [0.3475, 0.4027], "nice": false, "zero": false}, "axis": {"values": [0.35, 0.36, 0.37, 0.38, 0.39, 0.40], "format": ".2f", "title": null}}, "color": {"field": "m", "type": "nominal"}}}
      ]
    },
    {
      "title": "StMarysChurch / Pascal VOC", "width": 186, "height": 101,
      "encoding": {"x": {"field": "n", "type": "quantitative", "scale": {"domain": [0, 1000], "nice": false, "zero": false}, "axis": {"values": [0, 200, 400, 600, 800, 1000], "format": "d", "title": null}}},
      "layer": [
        {"data": {"name": "regions"}, "transform": [{"filter": "datum.panel == 'StMarysChurch / Pascal VOC'"}], "mark": {"type": "rect", "opacity": 0.055}, "encoding": {"x2": {"field": "n_end"}, "color": {"field": "lower", "type": "nominal"}}},
        {"data": {"name": "st_voc"}, "mark": {"type": "line", "strokeWidth": 1.1, "interpolate": "monotone"}, "encoding": {"y": {"field": "cd", "type": "quantitative", "scale": {"domain": [0.133, 0.306], "nice": false, "zero": false}, "axis": {"values": [0.14, 0.16, 0.18, 0.20, 0.22, 0.24, 0.26, 0.28, 0.30], "format": ".2f", "title": "Chamfer Distance (m)"}}, "color": {"field": "m", "type": "nominal"}}}
      ]
    },
    {
      "title": "StMarysChurch / SUN RGB-D", "width": 186, "height": 101,
      "encoding": {"x": {"field": "n", "type": "quantitative", "scale": {"domain": [0, 1500], "nice": false, "zero": false}, "axis": {"values": [0, 200, 400, 600, 800, 1000, 1200, 1400], "format": "d", "title": null}}},
      "layer": [
        {"data": {"name": "regions"}, "transform": [{"filter": "datum.panel == 'StMarysChurch / SUN RGB-D'"}], "mark": {"type": "rect", "opacity": 0.055}, "encoding": {"x2": {"field": "n_end"}, "color": {"field": "lower", "type": "nominal"}}},
        {"data": {"name": "st_sun"}, "mark": {"type": "line", "strokeWidth": 1.1, "interpolate": "monotone"}, "encoding": {"y": {"field": "cd", "type": "quantitative", "scale": {"domain": [0.142, 0.2657], "nice": false, "zero": false}, "axis": {"values": [0.16, 0.18, 0.20, 0.22, 0.24, 0.26], "format": ".2f", "title": null}}, "color": {"field": "m", "type": "nominal"}}}
      ]
    },
    {
      "title": "StMarysChurch / Synthetic", "width": 186, "height": 101,
      "encoding": {"x": {"field": "n", "type": "quantitative", "scale": {"domain": [0, 4000], "nice": false, "zero": false}, "axis": {"values": [0, 500, 1000, 1500, 2000, 2500, 3000, 3500, 4000], "format": "d", "title": null}}},
      "layer": [
        {"data": {"name": "regions"}, "transform": [{"filter": "datum.panel == 'StMarysChurch / Synthetic'"}], "mark": {"type": "rect", "opacity": 0.055}, "encoding": {"x2": {"field": "n_end"}, "color": {"field": "lower", "type": "nominal"}}},
        {"data": {"name": "st_syn"}, "mark": {"type": "line", "strokeWidth": 1.1, "interpolate": "monotone"}, "encoding": {"y": {"field": "cd", "type": "quantitative", "scale": {"domain": [0.186, 0.489], "nice": false, "zero": false}, "axis": {"values": [0.20, 0.25, 0.30, 0.35, 0.40, 0.45], "format": ".2f", "title": null}}, "color": {"field": "m", "type": "nominal"}}}
      ]
    },
    {
      "title": "GreatCourt / Pascal VOC", "width": 186, "height": 101,
      "encoding": {"x": {"field": "n", "type": "quantitative", "scale": {"domain": [0, 1000], "nice": false, "zero": false}, "axis": {"values": [0, 200, 400, 600, 800, 1000], "format": "d", "title": "Images processed"}}},
      "layer": [
        {"data": {"name": "regions"}, "transform": [{"filter": "datum.panel == 'GreatCourt / Pascal VOC'"}], "mark": {"type": "rect", "opacity": 0.055}, "encoding": {"x2": {"field": "n_end"}, "color": {"field": "lower", "type": "nominal"}}},
        {"data": {"name": "gc_voc"}, "mark": {"type": "line", "strokeWidth": 1.1, "interpolate": "monotone"}, "encoding": {"y": {"field": "cd", "type": "quantitative", "scale": {"domain": [0.261, 0.891], "nice": false, "zero": false}, "axis": {"values": [0.3, 0.4, 0.5, 0.6, 0.7, 0.8], "format": ".1f", "title": "Chamfer Distance (m)"}}, "color": {"field": "m", "type": "nominal"}}}
      ]
    },
    {
      "title": "GreatCourt / SUN RGB-D", "width": 186, "height": 101,
      "encoding": {"x": {"field": "n", "type": "quantitative", "scale": {"domain": [0, 1000], "nice": false, "zero": false}, "axis": {"values": [0, 200, 400, 600, 800, 1000], "format": "d", "title": "Images processed"}}},
      "layer": [
        {"data": {"name": "regions"}, "transform": [{"filter": "datum.panel == 'GreatCourt / SUN RGB-D'"}], "mark": {"type": "rect", "opacity": 0.055}, "encoding": {"x2": {"field": "n_end"}, "color": {"field": "lower", "type": "nominal"}}},
        {"data": {"name": "gc_sun"}, "mark": {"type": "line", "strokeWidth": 1.1, "interpolate": "monotone"}, "encoding": {"y": {"field": "cd", "type": "quantitative", "scale": {"domain": [0.254, 0.559], "nice": false, "zero": false}, "axis": {"values": [0.30, 0.35, 0.40, 0.45, 0.50, 0.55], "format": ".2f", "title": null}}, "color": {"field": "m", "type": "nominal"}}}
      ]
    },
    {
      "title": "GreatCourt / Synthetic", "width": 186, "height": 101,
      "encoding": {"x": {"field": "n", "type": "quantitative", "scale": {"domain": [0, 1000], "nice": false, "zero": false}, "axis": {"values": [0, 200, 400, 600, 800, 1000], "format": "d", "title": "Images processed"}}},
      "layer": [
        {"data": {"name": "regions"}, "transform": [{"filter": "datum.panel == 'GreatCourt / Synthetic'"}], "mark": {"type": "rect", "opacity": 0.055}, "encoding": {"x2": {"field": "n_end"}, "color": {"field": "lower", "type": "nominal"}}},
        {"data": {"name": "gc_syn"}, "mark": {"type": "line", "strokeWidth": 1.1, "interpolate": "monotone"}, "encoding": {"y": {"field": "cd", "type": "quantitative", "scale": {"domain": [0.548, 1.147], "nice": false, "zero": false}, "axis": {"values": [0.6, 0.7, 0.8, 0.9, 1.0, 1.1], "format": ".1f", "title": null}}, "color": {"field": "m", "type": "nominal"}}}
      ]
    }
  ],
  "config": {
    "font": "DejaVu Serif",
    "range": {"category": ["#e74c3c", "#3498db"]},
    "legend": {"disable": true},
    "view": {"stroke": "#1a1a1a", "strokeWidth": 1},
    "axis": {
      "domain": false,
      "labelFont": "DejaVu Serif", "labelFontSize": 5.5, "labelColor": "#222", "labelPadding": 1.5,
      "labelFlush": false, "labelOverlap": false,
      "tickColor": "#222", "tickSize": 3, "tickWidth": 0.6,
      "gridColor": "#e1e6ec", "gridWidth": 0.5,
      "titleFont": "DejaVu Serif", "titleFontSize": 6.2, "titleFontWeight": "normal", "titleColor": "#111", "titlePadding": 3
    },
    "title": {"font": "DejaVu Serif", "fontSize": 6.5, "fontWeight": "bold", "color": "#111", "offset": 4, "anchor": "middle"}
  }
}
